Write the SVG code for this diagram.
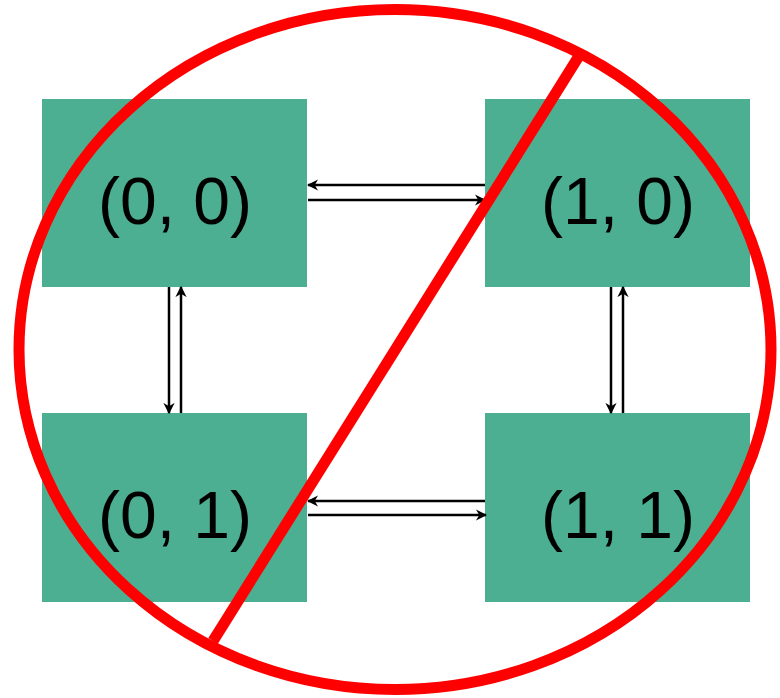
<svg xmlns="http://www.w3.org/2000/svg" width="780" height="698" viewBox="0 0 780 698">
<defs>
<marker id="ah" viewBox="0 0 10 10" refX="9" refY="5" markerWidth="4.5" markerHeight="4.5" orient="auto" markerUnits="strokeWidth">
<path d="M0,0 L10,5 L0,10 L3,5 Z" fill="#000"/>
</marker>
</defs>
<style>
.box{fill:#4caf92;}
.lbl{font-family:"Liberation Sans",Arial,sans-serif;font-size:66px;fill:#000;text-anchor:middle;}
.c{stroke:#000;stroke-width:2.5;fill:none;marker-end:url(#ah);}
.no{stroke:#ff0000;stroke-width:11;fill:none;}
</style>
<rect width="780" height="698" fill="#fff"/>
<g id="n00"><rect class="box" x="42" y="99" width="265" height="188"/><text class="lbl" x="175" y="224">(0, 0)</text></g>
<g id="n10"><rect class="box" x="485" y="99" width="265" height="188"/><text class="lbl" x="618" y="224">(1, 0)</text></g>
<g id="n01"><rect class="box" x="42" y="413" width="265" height="189"/><text class="lbl" x="175" y="538">(0, 1)</text></g>
<g id="n11"><rect class="box" x="485" y="413" width="265" height="189"/><text class="lbl" x="618" y="538">(1, 1)</text></g>
<g id="connectors">
<line class="c" x1="485" y1="185" x2="308" y2="185"/>
<line class="c" x1="308" y1="200" x2="485" y2="200"/>
<line class="c" x1="485" y1="501" x2="308" y2="501"/>
<line class="c" x1="308" y1="515" x2="486" y2="515"/>
<line class="c" x1="169" y1="287" x2="169" y2="413"/>
<line class="c" x1="181" y1="413" x2="181" y2="287"/>
<line class="c" x1="611" y1="287" x2="611" y2="413"/>
<line class="c" x1="623" y1="413" x2="623" y2="287"/>
</g>
<g id="no-sign">
<ellipse class="no" cx="395" cy="349.5" rx="376" ry="340"/>
<line class="no" x1="579" y1="56" x2="213" y2="641"/>
</g>
</svg>
